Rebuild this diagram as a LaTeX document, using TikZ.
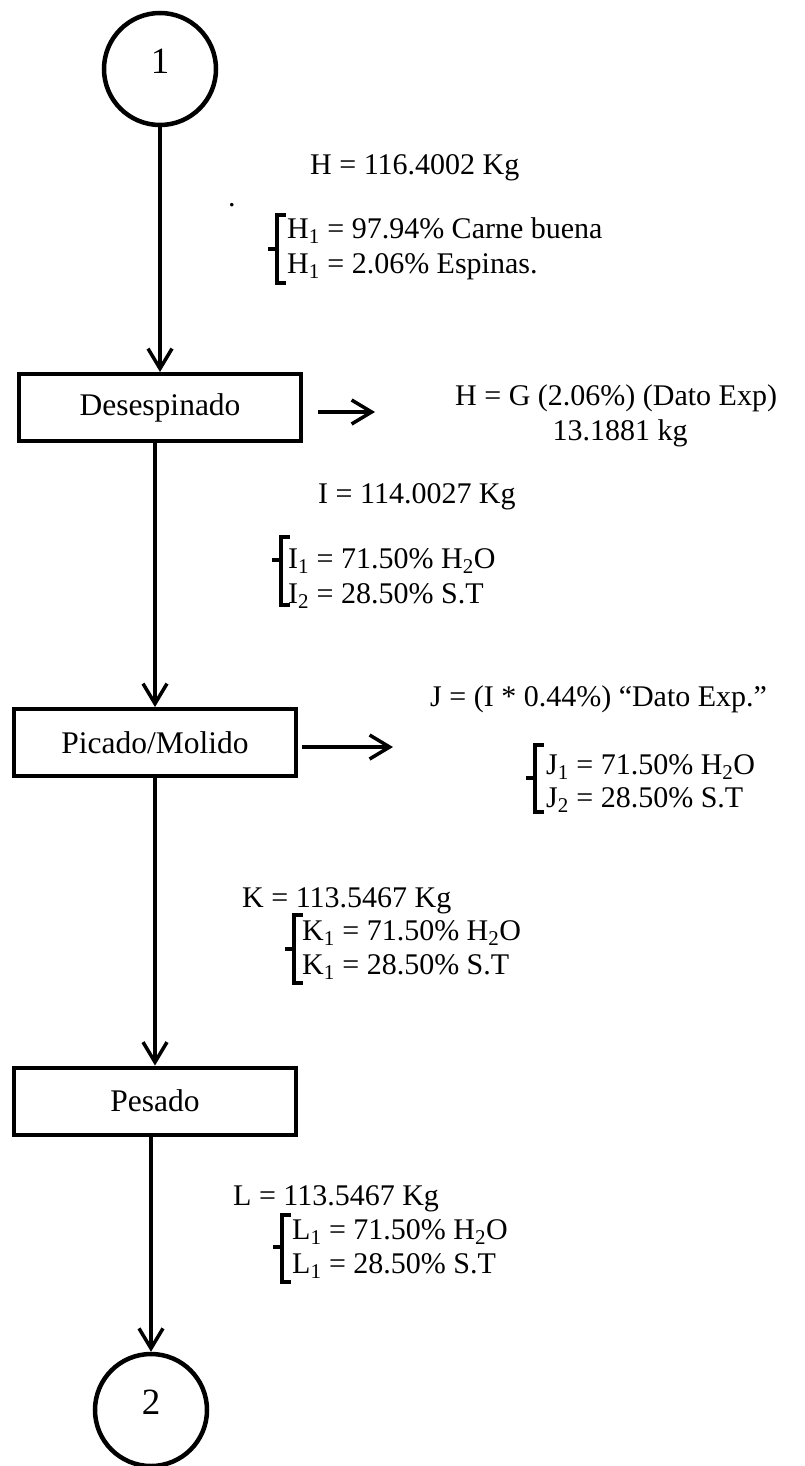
\documentclass[tikz,border=0pt]{standalone}
\usepackage{fontspec}
\setmainfont{Liberation Serif}
\usetikzlibrary{arrows.meta}

% square brace: vertical bar at x=#1 from #2 to #3, pointer tick at height #4
\newcommand{\sqbrace}[4]{%
  \draw[brace] ({#1+9},#2) -- (#1,#2) -- (#1,#3) -- ({#1+9},#3);
  \draw[brace] (#1,#4) -- ({#1-9},#4);}

\begin{document}
\begin{tikzpicture}[x=1pt,y=-1pt,
  stage/.style={draw, line width=4pt, minimum width=282pt, minimum height=67pt,
                inner sep=0pt, font=\fontsize{31.5}{36}\selectfont},
  connector/.style={draw, circle, line width=4.5pt, minimum size=112pt, inner sep=0pt,
                    text depth=16pt, font=\fontsize{37}{40}\selectfont},
  flow/.style={line width=3.5pt, -{Straight Barb[length=20pt,width=24pt]}},
  note/.style={anchor=base west, inner sep=0pt, font=\fontsize{30}{36}\selectfont},
  brace/.style={line width=4pt}]

\useasboundingbox (0,0) rectangle (805,1466);

% process chain
\node[connector] (c1) at (160,69) {1};
\node[stage] (des) at (160,407.5) {Desespinado};
\node[stage] (pic) at (155,742.5) {Picado/Molido};
\node[stage] (pes) at (155,1101) {Pesado};
\node[connector] (c2) at (151,1410) {2};

\draw[flow] (c1) -- (des);
\draw[flow] (des.south -| pic.north) -- (pic.north);
\draw[flow] (pic) -- (pes);
\draw[flow] (pes.south -| c2.north) -- (c2.north);

% side outputs
\coordinate (desout) at (375,412);
\coordinate (picout) at (393,747);
\draw[flow, shorten <=15pt] (des.east |- desout) -- (desout);
\draw[flow, shorten <=4pt] (pic.east |- picout) -- (picout);

% stream H
\node[note] (hval) at (310,175) {H = 116.4002 Kg};
\node[note] (dot) at (228,206) {.};
\node[note] (h1) at (287,238) {H\textsubscript{1} = 97.94\% Carne buena};
\node[note] (h2) at (287,273) {H\textsubscript{1} = 2.06\% Espinas.};
\sqbrace{277}{215}{283}{249}

% bones removed
\node[note] (gval) at (455,405) {H = G (2.06\%) (Dato Exp)};
\node[note, anchor=base] (gkg) at (620,440) {13.1881 kg};

% stream I
\node[note] (ival) at (318,503) {I = 114.0027 Kg};
\node[note] (i1) at (288,568) {I\textsubscript{1} = 71.50\% H\textsubscript{2}O};
\node[note] (i2) at (288,603) {I\textsubscript{2} = 28.50\% S.T};
\sqbrace{281}{537}{605}{560}

% loss J
\node[note] (jval) at (430,706) {J = (I * 0.44\%) ``Dato Exp.''};
\node[note] (j1) at (546,774) {J\textsubscript{1} = 71.50\% H\textsubscript{2}O};
\node[note] (j2) at (546,807) {J\textsubscript{2} = 28.50\% S.T};
\sqbrace{535}{745}{812}{778}

% stream K
\node[note] (kval) at (242,907) {K = 113.5467 Kg};
\node[note] (k1) at (302,940) {K\textsubscript{1} = 71.50\% H\textsubscript{2}O};
\node[note] (k2) at (302,974) {K\textsubscript{1} = 28.50\% S.T};
\sqbrace{294}{915}{983}{949}

% stream L
\node[note] (lval) at (233,1205) {L = 113.5467 Kg};
\node[note] (l1) at (292,1239) {L\textsubscript{1} = 71.50\% H\textsubscript{2}O};
\node[note] (l2) at (292,1273) {L\textsubscript{1} = 28.50\% S.T};
\sqbrace{282}{1215}{1282}{1247}

\end{tikzpicture}
\end{document}
